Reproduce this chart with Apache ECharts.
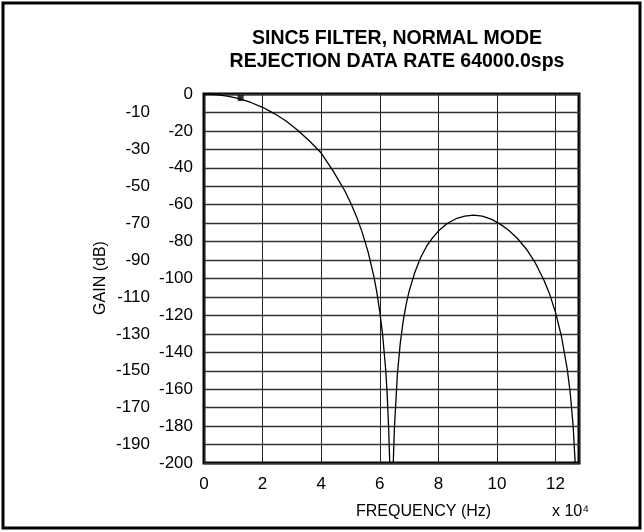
<!DOCTYPE html>
<html>
<head>
<meta charset="utf-8">
<script src="https://cdn.jsdelivr.net/npm/echarts@6/dist/echarts.min.js"></script>
<style>
  html, body { margin: 0; padding: 0; background: #fff; }
  #chart { width: 644px; height: 532px; }
</style>
</head>
<body>
<div id="chart"></div>
<script>
// frequency in units of 10^4 Hz, gain in dB
var lobe1Freq = [0, 0.4, 0.8, 1.2, 1.6, 2.0, 2.4, 2.8, 3.2, 3.6, 4.0, 4.4, 4.8, 5.0, 5.2, 5.4, 5.6, 5.8, 5.9, 6.0, 6.1, 6.2, 6.25, 6.3, 6.34];
var lobe1Gain = [0, -0.3, -1.1, -2.5, -4.6, -7.2, -10.6, -14.6, -19.6, -25.5, -32, -41.5, -52.3, -58.8, -66.2, -75, -85.6, -99, -107.5, -118, -131, -149, -162, -180, -200];
var lobe2Freq = [6.46, 6.5, 6.6, 6.7, 6.8, 6.9, 7.0, 7.2, 7.4, 7.6, 7.8, 8.0, 8.3, 8.6, 8.9, 9.2, 9.5, 9.8, 10.1, 10.4, 10.7, 11.0, 11.3, 11.6, 11.8, 12.0, 12.2, 12.4, 12.5, 12.6, 12.67];
var lobe2Gain = [-200, -181, -152, -135, -123, -114, -107, -96.5, -88.5, -82.5, -78, -74.3, -70.2, -67.6, -66.2, -65.6, -66.2, -67.8, -70.4, -73.8, -78.3, -84, -91.3, -100.8, -108.6, -118.5, -131.3, -149.2, -162, -180, -200];
var markerPoint = [[1.25, -2.2]];

var FONT = "'Liberation Sans Narrow', 'Liberation Sans', Arial, sans-serif";

function pairs(xs, ys) {
  return xs.map(function (x, i) { return [x, ys[i]]; });
}

var myChart = echarts.init(document.getElementById('chart'));
myChart.setOption({
  animation: false,
  title: {
    text: 'SINC5 FILTER, NORMAL MODE\nREJECTION DATA RATE 64000.0sps',
    left: 392,
    textAlign: 'center',
    top: 22,
    textStyle: {
      fontFamily: FONT,
      fontWeight: 'bold',
      fontSize: 19.5,
      lineHeight: 23,
      color: '#000'
    }
  },
  grid: {
    left: 204,
    top: 94,
    right: 65,
    bottom: 69,
    show: true,
    borderColor: '#000',
    borderWidth: 3
  },
  xAxis: {
    type: 'value',
    min: 0,
    max: 12.8,
    interval: 2,
    axisLine: { show: false },
    axisTick: { show: false },
    axisLabel: {
      showMaxLabel: false,
      margin: 13,
      fontFamily: FONT,
      fontSize: 17,
      color: '#000'
    },
    splitLine: { lineStyle: { color: '#222', width: 1 } }
  },
  yAxis: [
    {
      type: 'value',
      min: -200,
      max: 0,
      interval: 10,
      axisLine: { show: false },
      axisTick: { show: false },
      axisLabel: {
        margin: 11,
        fontFamily: FONT,
        fontSize: 17,
        color: '#000',
        formatter: function (v) { return v % 20 === 0 ? String(v) : ''; }
      },
      splitLine: { lineStyle: { color: '#333', width: 1.3 } }
    },
    {
      type: 'value',
      position: 'left',
      offset: 43,
      min: -200,
      max: 0,
      interval: 10,
      axisLine: { show: false },
      axisTick: { show: false },
      splitLine: { show: false },
      axisLabel: {
        margin: 11,
        fontFamily: FONT,
        fontSize: 17,
        color: '#000',
        formatter: function (v) { return v % 20 !== 0 ? String(v) : ''; }
      }
    }
  ],
  graphic: [
    {
      type: 'rect',
      shape: { x: 3, y: 3, width: 637, height: 525 },
      style: { fill: 'none', stroke: '#000', lineWidth: 3 },
      silent: true
    },
    {
      type: 'text',
      left: 356,
      top: 504,
      style: { text: 'FREQUENCY (Hz)', font: "16px " + FONT, fill: '#000' }
    },
    {
      type: 'text',
      left: 552,
      top: 504,
      style: { text: 'x 10\u2074', font: "16px " + FONT, fill: '#000' }
    },
    {
      type: 'text',
      x: 101,
      y: 278,
      rotation: Math.PI / 2,
      style: {
        text: 'GAIN (dB)',
        font: "16px " + FONT,
        fill: '#000',
        align: 'center',
        verticalAlign: 'middle'
      }
    }
  ],
  series: [
    {
      type: 'line',
      data: pairs(lobe1Freq, lobe1Gain),
      showSymbol: false,
      lineStyle: { color: '#000', width: 1.3 }
    },
    {
      type: 'line',
      data: pairs(lobe2Freq, lobe2Gain),
      showSymbol: false,
      lineStyle: { color: '#000', width: 1.3 }
    },
    {
      type: 'scatter',
      data: markerPoint,
      symbol: 'rect',
      symbolSize: 6,
      itemStyle: { color: '#000' }
    }
  ]
});
</script>
</body>
</html>
